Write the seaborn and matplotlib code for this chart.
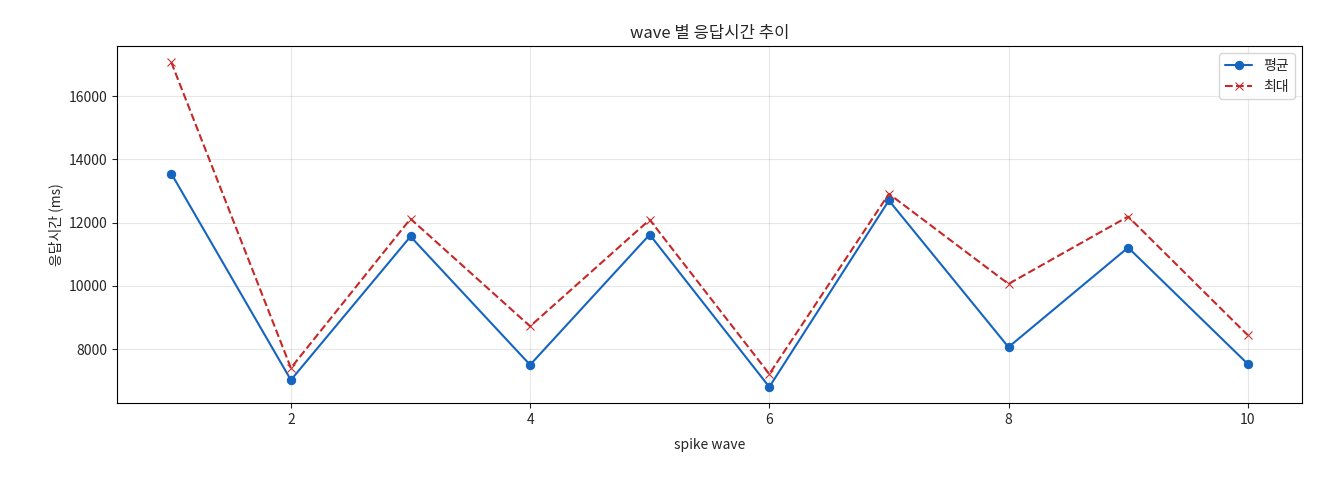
import numpy as np
import pandas as pd
import seaborn as sns
import matplotlib
matplotlib.use('Agg')
import matplotlib.pyplot as plt

waves = [1, 2, 3, 4, 5, 6, 7, 8, 9, 10]
avg_ms = [13550, 7020, 11560, 7500, 11620, 6800, 12700, 8060, 11210, 7530]
max_ms = [17070, 7400, 12120, 8720, 12090, 7210, 12910, 10060, 12190, 8440]

sns.set_style('white')
plt.rcParams['font.family'] = ['Noto Sans CJK KR', 'DejaVu Sans']

df = pd.DataFrame({'wave': waves, 'avg': avg_ms, 'max': max_ms})

fig, ax = plt.subplots(figsize=(13.2, 4.8), dpi=100)
sns.lineplot(data=df, x='wave', y='avg', marker='o', color='#1565C0',
             markeredgecolor='#1565C0', label='평균', ax=ax)
sns.lineplot(data=df, x='wave', y='max', marker='x', color='#C62828',
             linestyle='--', markeredgecolor='#C62828', label='최대', ax=ax)
ax.grid(True, color='#b0b0b0', alpha=0.3)
for s in ax.spines.values():
    s.set_color('black')
    s.set_linewidth(0.8)
ax.tick_params(left=True, bottom=True, length=3.5)
ax.set_title('wave 별 응답시간 추이')
ax.set_xlabel('spike wave', labelpad=8)
ax.set_ylabel('응답시간 (ms)')
ax.legend(loc='upper right')
plt.subplots_adjust(left=0.089, right=0.986, top=0.904, bottom=0.16)
fig.savefig('out.png')
